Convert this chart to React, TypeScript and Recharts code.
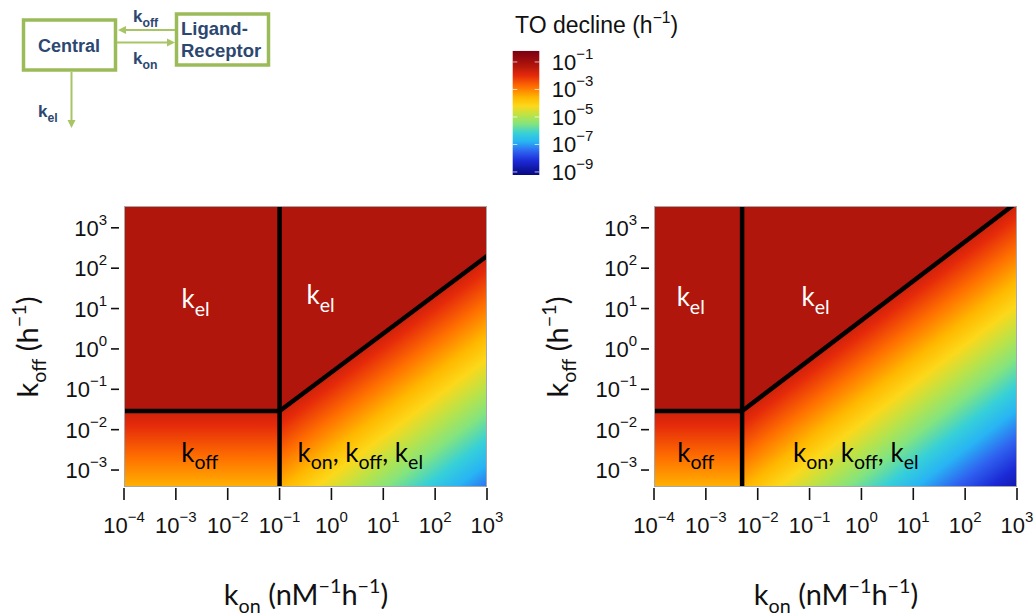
import React from 'react';
import { ComposedChart, XAxis, YAxis, Area, Scatter, ReferenceArea, Label } from 'recharts';

const konTicks = [1e-4, 1e-3, 1e-2, 1e-1, 1, 10, 100, 1000];
const koffTicks = [1e-3, 1e-2, 1e-1, 1, 10, 100, 1000];
const declineTicks = [1e-1, 1e-3, 1e-5, 1e-7, 1e-9];

const konRange = [1e-4, 1e3];
const koffRange = [3.8e-4, 3.47e3];
const declineRange = [6e-10, 0.66];

// regime switch lines (kon, koff): first point is where the three regimes meet
const leftSwitch = [
  { kon: 0.1, koff: 0.029 },
  { kon: 1000, koff: 200 },
];
const rightSwitch = [
  { kon: 0.005, koff: 0.029 },
  { kon: 1000, koff: 4300 },
];

// log10 TO decline (h^-1): kel plateau and value just under the switch lines
const kelLevel = -1.25;
const switchLevel = -1.65;

const leftNotes = [
  { kon: 2.4e-3, koff: 16, text: 'kel', tone: '#fff' },
  { kon: 0.62, koff: 20, text: 'kel', tone: '#fff' },
  { kon: 2.9e-3, koff: 2.5e-3, text: 'koff', tone: '#000' },
  { kon: 3.6, koff: 2.5e-3, text: 'all', tone: '#000' },
];
const rightNotes = [
  { kon: 5.1e-4, koff: 18, text: 'kel', tone: '#fff' },
  { kon: 0.13, koff: 18, text: 'kel', tone: '#fff' },
  { kon: 6.4e-4, koff: 2.5e-3, text: 'koff', tone: '#000' },
  { kon: 0.78, koff: 2.5e-3, text: 'all', tone: '#000' },
];

// jet-like colour scale over log10 decline
const declineScale: [number, string][] = [
  [-0.18, '#7a0012'],
  [-1.0, '#a30f0d'],
  [-1.3, '#b3170b'],
  [-2.0, '#e52a0a'],
  [-2.8, '#ff6f00'],
  [-3.6, '#ffb800'],
  [-4.2, '#fcd81a'],
  [-4.9, '#b8e34a'],
  [-5.5, '#84e47e'],
  [-6.2, '#36d0d8'],
  [-6.8, '#28b4f4'],
  [-7.5, '#2f63f0'],
  [-8.2, '#1b2ad6'],
  [-9.22, '#08087f'],
];

const ARIAL = '"Liberation Sans", Arial, sans-serif';
const LATO = 'Lato, "Open Sans", sans-serif';
const INK = '#2c4770';
const GREEN = '#9bbb59';
const ARROW = '#a8c566';

const lg = Math.log10;
const lowest = declineScale[declineScale.length - 1][0];

const rgb = (c: string) => [1, 3, 5].map((i) => parseInt(c.slice(i, i + 2), 16));
const mix = (a: string, b: string, f: number) => {
  const x = rgb(a);
  const y = rgb(b);
  return 'rgb(' + x.map((v, i) => Math.round(v + (y[i] - v) * f)).join(',') + ')';
};

function colorAt(v: number) {
  if (v >= declineScale[0][0]) return declineScale[0][1];
  for (let i = 1; i < declineScale.length; i++) {
    const [v1, c1] = declineScale[i];
    if (v >= v1) {
      const [v0, c0] = declineScale[i - 1];
      return mix(c0, c1, (v0 - v) / (v0 - v1));
    }
  }
  return declineScale[declineScale.length - 1][1];
}

function stopsBetween(hi: number, lo: number) {
  const out = [{ offset: 0, color: colorAt(hi) }];
  declineScale.forEach(([v, c]) => {
    if (v < hi && v > lo) out.push({ offset: (hi - v) / (hi - lo), color: c });
  });
  out.push({ offset: 1, color: colorAt(lo) });
  return out;
}

type Part = { t: string; sub?: boolean; sup?: boolean };

const noteParts: Record<string, Part[]> = {
  kel: [{ t: 'k' }, { t: 'el', sub: true }],
  koff: [{ t: 'k' }, { t: 'off', sub: true }],
  all: [
    { t: 'k' }, { t: 'on', sub: true }, { t: ', k' }, { t: 'off', sub: true },
    { t: ', k' }, { t: 'el', sub: true },
  ],
};
const koffTitle: Part[] = [{ t: 'k' }, { t: 'off', sub: true }, { t: ' (h' }, { t: '\u22121', sup: true }, { t: ')' }];
const konTitle: Part[] = [
  { t: 'k' }, { t: 'on', sub: true }, { t: ' (nM' }, { t: '\u22121', sup: true },
  { t: 'h' }, { t: '\u22121', sup: true }, { t: ')' },
];
const declineTitle: Part[] = [{ t: 'TO decline (h' }, { t: '\u22121', sup: true }, { t: ')' }];

function rich(parts: Part[], size: number, small = 0.7) {
  let shift = 0;
  return parts.map((p, i) => {
    const target = p.sub ? size * 0.28 : p.sup ? -size * 0.42 : 0;
    const dy = target - shift;
    shift = target;
    return (
      <tspan key={i} dy={dy} fontSize={p.sub || p.sup ? size * small : size}>
        {p.t}
      </tspan>
    );
  });
}

const power = (v: number) => {
  const e = Math.round(lg(v));
  return e < 0 ? '\u2212' + -e : String(e);
};

const KonTick = (props: any) => {
  const { x, y, payload } = props;
  return (
    <g>
      <line x1={x} x2={x} y1={y + 1} y2={y + 13} stroke="#111" strokeWidth={1.6} />
      <text x={x} y={y + 46} textAnchor="middle" fontFamily={ARIAL} fontSize={22} fill="#111">
        10<tspan dy={-11} fontSize={15}>{power(payload.value)}</tspan>
      </text>
    </g>
  );
};

const KoffTick = (props: any) => {
  const { x, y, payload } = props;
  return (
    <g>
      <line x1={x - 13} x2={x - 5} y1={y} y2={y} stroke="#111" strokeWidth={1.6} />
      <text x={x - 17} y={y + 8} textAnchor="end" fontFamily={ARIAL} fontSize={22} fill="#111">
        10<tspan dy={-11} fontSize={15}>{power(payload.value)}</tspan>
      </text>
    </g>
  );
};

const DeclineTick = (props: any) => {
  const { x, y, payload } = props;
  return (
    <g>
      <line x1={x - 26.6} x2={x - 22} y1={y} y2={y} stroke="#fff" strokeOpacity={0.7} />
      <line x1={x - 4.6} x2={x} y1={y} y2={y} stroke="#fff" strokeOpacity={0.7} />
      <text x={x + 12.4} y={y + 8} fontFamily={ARIAL} fontSize={22} fill="#111">
        10<tspan dy={-11} fontSize={15}>{power(payload.value)}</tspan>
      </text>
    </g>
  );
};

const Blank = () => <g />;

const Note = (props: any) => {
  const { cx, cy, payload } = props;
  return (
    <text x={cx} y={cy + 8} textAnchor="middle" fontFamily={LATO} fontSize={26} fill={payload.tone}>
      {rich(noteParts[payload.text], 26, 0.75)}
    </text>
  );
};

function Panel({ id, left, switchLine, notes }: any) {
  const [meet, far] = switchLine;
  const floor = koffRange[0];
  const rows = switchLine.map((p: any) => ({ ...p, below: [floor, p.koff], above: [p.koff, 1e6] }));
  const edge = [{ kon: konRange[0], koff: meet.koff }, meet, far];
  const wall = [{ kon: meet.kon, koff: floor }, { kon: meet.kon, koff: koffRange[1] }];

  // koff-limited corner: decline falls with koff only
  const lowStops = stopsBetween(switchLevel, switchLevel - (lg(meet.koff) - lg(floor)));

  // mixed regime: isolines run parallel to the switch line (gradient set in bbox units)
  const hy = lg(far.koff) - lg(floor);
  const vA = (lg(far.koff) - lg(meet.koff)) / hy;
  const t = (switchLevel - lowest) / (hy * (1 + vA * vA));
  const tailStops = stopsBetween(switchLevel, lowest);

  const xTitle = () => (
    <text x={306} y={425} textAnchor="middle" fontFamily={LATO} fontSize={29} fill="#111">
      {rich(konTitle, 29, 0.68)}
    </text>
  );
  const yTitle = () => (
    <text transform="translate(38,167) rotate(-90)" textAnchor="middle" fontFamily={LATO} fontSize={29} fill="#111">
      {rich(koffTitle, 29, 0.68)}
    </text>
  );

  return (
    <div style={{ position: 'absolute', left, top: 180, width: 520, height: 436 }}>
      <ComposedChart width={520} height={436} data={rows} margin={{ top: 26, right: 33, bottom: 4, left: 14 }}>
        <defs>
          <linearGradient id={id + '-low'} x1={0} y1={0} x2={0} y2={1}>
            {lowStops.map((s, i) => (
              <stop key={i} offset={s.offset} stopColor={s.color} />
            ))}
          </linearGradient>
          <linearGradient id={id + '-tail'} x1={0} y1={vA} x2={t * vA} y2={vA + t}>
            {tailStops.map((s, i) => (
              <stop key={i} offset={s.offset} stopColor={s.color} />
            ))}
          </linearGradient>
        </defs>
        <XAxis
          dataKey="kon"
          type="number"
          scale="log"
          domain={konRange}
          ticks={konTicks}
          interval={0}
          allowDataOverflow
          axisLine={false}
          tickLine={false}
          tickSize={0}
          tickMargin={0}
          height={125}
          tick={KonTick}
          label={<Label content={xTitle} />}
        />
        <YAxis
          dataKey="koff"
          type="number"
          scale="log"
          domain={koffRange}
          ticks={koffTicks}
          interval={0}
          allowDataOverflow
          axisLine={false}
          tickLine={false}
          tickSize={0}
          tickMargin={0}
          width={110}
          tick={KoffTick}
          label={<Label content={yTitle} />}
        />
        <ReferenceArea
          x1={konRange[0]}
          x2={meet.kon}
          y1={meet.koff}
          y2={koffRange[1]}
          fill={colorAt(kelLevel)}
          fillOpacity={1}
          stroke="none"
        />
        <ReferenceArea
          x1={konRange[0]}
          x2={meet.kon}
          y1={floor}
          y2={meet.koff}
          fill={'url(#' + id + '-low)'}
          fillOpacity={1}
          stroke="none"
        />
        <Area
          dataKey="below"
          type="linear"
          stroke="none"
          fill={'url(#' + id + '-tail)'}
          fillOpacity={1}
          dot={false}
          activeDot={false}
          isAnimationActive={false}
        />
        <Area
          dataKey="above"
          type="linear"
          stroke="none"
          fill={colorAt(kelLevel)}
          fillOpacity={1}
          dot={false}
          activeDot={false}
          isAnimationActive={false}
        />
        <Scatter data={edge} shape={Blank} line={{ stroke: '#000', strokeWidth: 4.5 }} lineType="joint" isAnimationActive={false} />
        <Scatter data={wall} shape={Blank} line={{ stroke: '#000', strokeWidth: 4.5 }} lineType="joint" isAnimationActive={false} />
        <Scatter data={notes} shape={Note} isAnimationActive={false} />
      </ComposedChart>
      <div
        style={{
          position: 'absolute',
          left: 124,
          top: 26,
          width: 363,
          height: 281,
          border: '1px solid #a8a8a8',
          boxSizing: 'border-box',
          pointerEvents: 'none',
        }}
      />
    </div>
  );
}

// colour bar: one flat band across the whole decline range, painted with the scale
const barRows = [
  { x: 0, band: declineRange },
  { x: 1, band: declineRange },
];

function ColorBar() {
  const barStops = stopsBetween(lg(declineRange[1]), lg(declineRange[0]));
  const title = () => (
    <text x={25} y={33} fontFamily={ARIAL} fontSize={23} fill="#111">
      {rich(declineTitle, 23, 0.68)}
    </text>
  );
  return (
    <div style={{ position: 'absolute', left: 490, top: 0, width: 200, height: 190 }}>
      <ComposedChart width={200} height={190} data={barRows} margin={{ top: 50.7, right: 80.7, bottom: 15, left: 22.7 }}>
        <defs>
          <linearGradient id="decline-bar" x1={0} y1={0} x2={0} y2={1}>
            {barStops.map((s, i) => (
              <stop key={i} offset={s.offset} stopColor={s.color} />
            ))}
          </linearGradient>
        </defs>
        <XAxis type="number" dataKey="x" domain={[0, 1]} hide />
        <YAxis
          orientation="right"
          type="number"
          scale="log"
          domain={declineRange}
          ticks={declineTicks}
          interval={0}
          allowDataOverflow
          axisLine={false}
          tickLine={false}
          tickSize={0}
          tickMargin={0}
          width={70}
          tick={DeclineTick}
          label={<Label content={title} />}
        />
        <Area
          dataKey="band"
          type="linear"
          stroke="none"
          fill="url(#decline-bar)"
          fillOpacity={1}
          dot={false}
          activeDot={false}
          isAnimationActive={false}
        />
      </ComposedChart>
    </div>
  );
}

function Scheme() {
  const bold = { fontFamily: ARIAL, fontWeight: 700, fill: INK };
  return (
    <svg width={300} height={140} style={{ position: 'absolute', left: 0, top: 0 }}>
      <rect x={23.5} y={20} width={92} height={50} fill="none" stroke={GREEN} strokeWidth={3.5} />
      <text x={69} y={52} textAnchor="middle" fontSize={18} {...bold}>Central</text>
      <rect x={176.5} y={14} width={92} height={51} fill="none" stroke={GREEN} strokeWidth={3.5} />
      <text x={181} y={35} fontSize={18.5} {...bold}>Ligand-</text>
      <text x={181} y={57} fontSize={18.5} {...bold}>Receptor</text>

      <line x1={175} y1={30} x2={125} y2={30} stroke={ARROW} strokeWidth={2} />
      <polygon points="118,30 126,26 126,34" fill={ARROW} />
      <line x1={117} y1={42.5} x2={168} y2={42.5} stroke={ARROW} strokeWidth={2} />
      <polygon points="175,42.5 167,38.5 167,46.5" fill={ARROW} />
      <line x1={71.5} y1={72} x2={71.5} y2={120} stroke={ARROW} strokeWidth={2} />
      <polygon points="71.5,128 67.5,120 75.5,120" fill={ARROW} />

      <text x={133} y={22} fontSize={17} {...bold}>{rich(noteParts.koff, 17, 0.72)}</text>
      <text x={133} y={64} fontSize={17} {...bold}>{rich([{ t: 'k' }, { t: 'on', sub: true }], 17, 0.72)}</text>
      <text x={38} y={117} fontSize={17} {...bold}>{rich(noteParts.kel, 17, 0.72)}</text>
    </svg>
  );
}

export default function App() {
  return (
    <div style={{ position: 'absolute', left: 0, top: 0, width: 1036, height: 616, background: '#fff', overflow: 'hidden' }}>
      <Scheme />
      <ColorBar />
      <Panel id="left" left={0} switchLine={leftSwitch} notes={leftNotes} />
      <Panel id="right" left={530} switchLine={rightSwitch} notes={rightNotes} />
    </div>
  );
}
